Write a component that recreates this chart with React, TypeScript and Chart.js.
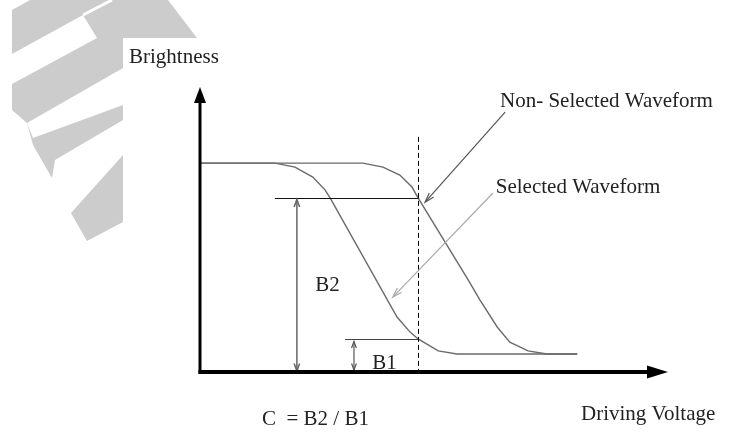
import React, { useEffect, useRef } from 'react';
import { Chart, registerables } from 'chart.js';

Chart.register(...registerables);

// Driving voltage (x) and brightness (y), in arbitrary 0..100 units
const nonSelectedVoltage = [0, 34.8, 39.1, 42.7, 45.3, 46.6, 57.3, 59.8, 63.5, 66.2, 70.1, 74.1, 80.6];
const nonSelectedBrightness = [73.3, 73.3, 71.9, 69.1, 64.9, 61.1, 32.3, 25.3, 15.8, 10.5, 7.4, 6.3, 6.3];
const selectedVoltage = [0, 16.0, 20.3, 24.1, 26.7, 27.8, 42.1, 44.9, 46.6, 50.9, 54.9, 80.6];
const selectedBrightness = [73.3, 73.3, 71.9, 68.4, 63.9, 61.1, 19.3, 14.0, 11.6, 7.4, 6.3, 6.3];

// Operating point and contrast levels
const markerVoltage = [46.6];
const markerTop = [82.5];
const levelB2 = [61.1];
const levelB1 = [11.6];
const levelB2LineStart = [16.0];
const levelB1LineStart = [31.0];
const arrowB2Voltage = [20.7];
const arrowB1Voltage = [32.9];

const labels = {
  yAxis: 'Brightness',
  xAxis: 'Driving Voltage',
  nonSelected: 'Non- Selected Waveform',
  selected: 'Selected Waveform',
  b2: 'B2',
  b1: 'B1',
  formula: 'C  = B2 / B1',
};

const FONT = '21px "Liberation Serif", "DejaVu Serif", serif';

function openHead(ctx: CanvasRenderingContext2D, fx: number, fy: number, tx: number, ty: number, len: number, spread: number) {
  const a = Math.atan2(ty - fy, tx - fx);
  ctx.beginPath();
  ctx.moveTo(tx - len * Math.cos(a - spread), ty - len * Math.sin(a - spread));
  ctx.lineTo(tx, ty);
  ctx.lineTo(tx - len * Math.cos(a + spread), ty - len * Math.sin(a + spread));
  ctx.stroke();
}

function line(ctx: CanvasRenderingContext2D, x1: number, y1: number, x2: number, y2: number) {
  ctx.beginPath();
  ctx.moveTo(x1, y1);
  ctx.lineTo(x2, y2);
  ctx.stroke();
}

function poly(ctx: CanvasRenderingContext2D, pts: number[][]) {
  ctx.beginPath();
  pts.forEach((p, i) => (i ? ctx.lineTo(p[0], p[1]) : ctx.moveTo(p[0], p[1])));
  ctx.closePath();
  ctx.fill();
}

const snap = (v: number) => Math.round(v) + 0.5;

const diagramPlugin = {
  id: 'diagram',
  beforeDraw(chart: any) {
    const ctx: CanvasRenderingContext2D = chart.ctx;
    ctx.save();
    ctx.fillStyle = '#ffffff';
    ctx.fillRect(0, 0, chart.width, chart.height);
    // faint logo watermark in the corner
    ctx.fillStyle = '#cccccc';
    poly(ctx, [[12, 10], [30, 0], [168, 0], [197, 38], [123, 38], [123, 120], [55, 160], [52, 178], [33, 145], [27, 123], [12, 110]]);
    poly(ctx, [[71, 213], [123, 155], [123, 222], [87, 241]]);
    ctx.fillStyle = '#ffffff';
    poly(ctx, [[12, 54], [83, 15], [97, 38], [12, 84]]);
    poly(ctx, [[27, 123], [123, 68], [123, 105], [33, 138]]);
    ctx.strokeStyle = '#ffffff';
    ctx.lineWidth = 3;
    line(ctx, 83, 15, 112, 0);
    ctx.restore();
  },
  afterDatasetsDraw(chart: any) {
    const ctx: CanvasRenderingContext2D = chart.ctx;
    const xs = chart.scales.x;
    const ys = chart.scales.y;
    const X = (v: number) => xs.getPixelForValue(v);
    const Y = (v: number) => ys.getPixelForValue(v);
    const area = chart.chartArea;
    const x0 = X(0);
    const y0 = Y(0);
    ctx.save();

    // dashed operating-point line
    ctx.strokeStyle = '#000';
    ctx.lineWidth = 1;
    ctx.setLineDash([5, 3]);
    const mx = snap(X(markerVoltage[0]));
    line(ctx, mx, Y(markerTop[0]), mx, y0);
    ctx.setLineDash([]);

    // level lines
    ctx.strokeStyle = '#111';
    ctx.lineWidth = 1;
    const l2 = snap(Y(levelB2[0]));
    const l1 = snap(Y(levelB1[0]));
    line(ctx, X(levelB2LineStart[0]), l2, mx, l2);
    ctx.strokeStyle = '#444';
    line(ctx, X(levelB1LineStart[0]), l1, mx, l1);

    // double-headed measurement arrows
    ctx.strokeStyle = '#666';
    ctx.lineWidth = 1.5;
    const bx2 = X(arrowB2Voltage[0]);
    line(ctx, bx2, l2 + 1, bx2, y0 - 1);
    openHead(ctx, bx2, y0, bx2, l2 + 1, 8, 0.35);
    openHead(ctx, bx2, l2, bx2, y0 - 1, 8, 0.35);
    ctx.strokeStyle = '#555';
    ctx.lineWidth = 1.2;
    const bx1 = X(arrowB1Voltage[0]);
    line(ctx, bx1, l1 + 2, bx1, y0 - 2);
    openHead(ctx, bx1, y0, bx1, l1 + 2, 7, 0.35);
    openHead(ctx, bx1, l1, bx1, y0 - 2, 7, 0.35);

    // pointer arrows from labels to curves
    ctx.strokeStyle = '#555';
    ctx.lineWidth = 1.2;
    const p1 = [X(65.2), Y(91.2), X(48.1), Y(59.6)];
    line(ctx, p1[0], p1[1], p1[2], p1[3]);
    openHead(ctx, p1[0], p1[1], p1[2], p1[3], 10, 0.3);
    ctx.strokeStyle = '#aaa';
    const p2 = [X(62.6), Y(62.8), X(41.2), Y(26.3)];
    line(ctx, p2[0], p2[1], p2[2], p2[3]);
    openHead(ctx, p2[0], p2[1], p2[2], p2[3], 10, 0.3);

    // axes with solid arrowheads
    ctx.fillStyle = '#000';
    ctx.fillRect(x0 - 1.5, area.top + 14, 3, y0 - area.top - 12);
    ctx.fillRect(x0 - 1.5, y0 - 2, area.right - x0 - 18, 4);
    ctx.beginPath();
    ctx.moveTo(x0, area.top);
    ctx.lineTo(x0 + 6, area.top + 16);
    ctx.lineTo(x0 - 6, area.top + 16);
    ctx.closePath();
    ctx.fill();
    ctx.beginPath();
    ctx.moveTo(area.right, y0);
    ctx.lineTo(area.right - 21, y0 - 6.5);
    ctx.lineTo(area.right - 21, y0 + 6.5);
    ctx.closePath();
    ctx.fill();

    // texts
    ctx.font = FONT;
    ctx.fillStyle = '#222';
    ctx.textBaseline = 'alphabetic';
    ctx.textAlign = 'left';
    ctx.fillText(labels.yAxis, x0 - 71, area.top - 24);
    ctx.fillText(labels.xAxis, area.right - 87, y0 + 48);
    ctx.fillText(labels.formula, x0 + 62, y0 + 53);
    ctx.fillText(labels.nonSelected, X(64.1), Y(93.0));
    ctx.fillText(labels.selected, X(63.2), Y(62.8));
    ctx.fillText(labels.b2, X(24.6), Y(28.4));
    ctx.fillText(labels.b1, X(36.8), Y(1.0));
    ctx.restore();
  },
};

export default function App() {
  const ref = useRef<HTMLCanvasElement | null>(null);
  useEffect(() => {
    if (!ref.current) return;
    const chart = new Chart(ref.current, {
      type: 'scatter',
      data: {
        datasets: [
          {
            label: 'Non-Selected Waveform',
            data: nonSelectedVoltage.map((v, i) => ({ x: v, y: nonSelectedBrightness[i] })),
            showLine: true,
            borderColor: '#6a6a6a',
            borderWidth: 1.4,
            pointRadius: 0,
            tension: 0,
          },
          {
            label: 'Selected Waveform',
            data: selectedVoltage.map((v, i) => ({ x: v, y: selectedBrightness[i] })),
            showLine: true,
            borderColor: '#6a6a6a',
            borderWidth: 1.4,
            pointRadius: 0,
            tension: 0,
          },
        ],
      },
      options: {
        animation: false,
        responsive: false,
        devicePixelRatio: 1,
        layout: { padding: { left: 200, right: 67, top: 87, bottom: 64 } },
        plugins: { legend: { display: false }, tooltip: { enabled: false }, title: { display: false } },
        events: [],
        scales: {
          x: { type: 'linear', min: 0, max: 100, display: false },
          y: { type: 'linear', min: 0, max: 100, display: false },
        },
      },
      plugins: [diagramPlugin],
    });
    return () => chart.destroy();
  }, []);
  return (
    <div style={{ position: 'absolute', left: 0, top: 0, width: 735, height: 436, background: '#fff' }}>
      <canvas ref={ref} width={735} height={436} style={{ display: 'block' }} />
    </div>
  );
}
